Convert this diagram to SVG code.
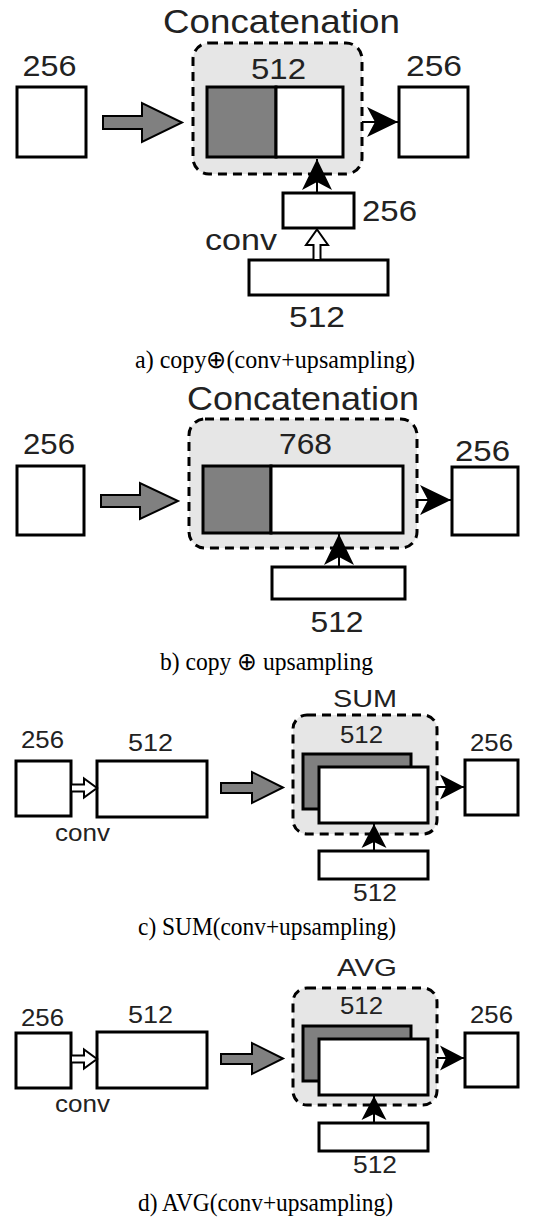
<svg xmlns="http://www.w3.org/2000/svg" width="536" height="1222" viewBox="0 0 536 1222">
<style>
.box{fill:#fff;stroke:#000;stroke-width:3}
.dark{fill:#808080;stroke:#000;stroke-width:3}
.group{fill:#e6e6e6;stroke:#000;stroke-width:3;stroke-dasharray:9 6}
.fat{fill:#808080;stroke:#000;stroke-width:2;stroke-linejoin:miter}
.hollow{fill:#fff;stroke:#000;stroke-width:2}
.conn{fill:none;stroke:#000;stroke-width:2}
.big{marker-end:url(#headL)}
.small{marker-end:url(#headS)}
.lbl{font-family:"Liberation Sans",Arial,sans-serif;fill:#222}
.cap{font-family:"Liberation Serif","Times New Roman",serif;fill:#000;text-anchor:middle}
.m{text-anchor:middle}
</style>
<defs>
<marker id="headL" markerUnits="userSpaceOnUse" viewBox="-32 -16 33 32" markerWidth="33" markerHeight="32" refX="0" refY="0" orient="auto">
<path d="M0,0 L-31,-15 L-23,0 L-31,15 Z" fill="#000"/>
</marker>
<marker id="headS" markerUnits="userSpaceOnUse" viewBox="-25 -13 26 26" markerWidth="26" markerHeight="26" refX="0" refY="0" orient="auto">
<path d="M0,0 L-24,-12.5 L-18,0 L-24,12.5 Z" fill="#000"/>
</marker>
</defs>

<!-- a) -->
<g id="a-in">
<rect class="box" x="17" y="87" width="69" height="70"/>
<text class="lbl m" x="49.5" y="76" font-size="29" textLength="54" lengthAdjust="spacingAndGlyphs">256</text>
</g>
<g id="a-concat">
<rect class="group" x="193" y="43" width="169" height="131" rx="16"/>
<rect class="dark" x="207" y="87" width="69" height="70"/>
<rect class="box" x="276" y="87" width="67" height="70"/>
<text class="lbl m" x="281.5" y="33" font-size="33" textLength="237" lengthAdjust="spacingAndGlyphs">Concatenation</text>
<text class="lbl m" x="278.5" y="79" font-size="29" textLength="55" lengthAdjust="spacingAndGlyphs">512</text>
</g>
<g id="a-out">
<rect class="box" x="399" y="87" width="69" height="70"/>
<text class="lbl m" x="434" y="76" font-size="29" textLength="56" lengthAdjust="spacingAndGlyphs">256</text>
</g>
<g id="a-small">
<rect class="box" x="283" y="193" width="71" height="35"/>
<text class="lbl" x="362" y="221" font-size="30" textLength="55" lengthAdjust="spacingAndGlyphs">256</text>
</g>
<g id="a-bottom">
<rect class="box" x="249" y="260" width="139" height="35"/>
<text class="lbl m" x="317" y="327" font-size="29" textLength="56" lengthAdjust="spacingAndGlyphs">512</text>
</g>
<text class="lbl" x="205" y="250" font-size="30" textLength="72" lengthAdjust="spacingAndGlyphs">conv</text>
<text class="cap" x="275" y="368" font-size="25" textLength="280" lengthAdjust="spacingAndGlyphs">a) copy⊕(conv+upsampling)</text>

<!-- b) -->
<g id="b-in">
<rect class="box" x="17" y="466" width="67" height="69"/>
<text class="lbl m" x="49" y="454" font-size="29" textLength="52" lengthAdjust="spacingAndGlyphs">256</text>
</g>
<g id="b-concat">
<rect class="group" x="189" y="419" width="228" height="129" rx="16"/>
<rect class="dark" x="203" y="466" width="68" height="67"/>
<rect class="box" x="271" y="466" width="132" height="67"/>
<text class="lbl m" x="303" y="410" font-size="33" textLength="232" lengthAdjust="spacingAndGlyphs">Concatenation</text>
<text class="lbl m" x="305.5" y="454" font-size="29" textLength="53" lengthAdjust="spacingAndGlyphs">768</text>
</g>
<g id="b-out">
<rect class="box" x="452" y="467" width="66" height="68"/>
<text class="lbl m" x="482.5" y="461" font-size="29" textLength="55" lengthAdjust="spacingAndGlyphs">256</text>
</g>
<g id="b-bottom">
<rect class="box" x="272" y="567" width="133" height="32"/>
<text class="lbl m" x="337" y="632" font-size="29" textLength="53" lengthAdjust="spacingAndGlyphs">512</text>
</g>
<text class="cap" x="266.5" y="670" font-size="25" textLength="213" lengthAdjust="spacingAndGlyphs">b) copy ⊕ upsampling</text>

<!-- c) -->
<g id="c-in">
<rect class="box" x="16" y="761" width="55" height="55"/>
<text class="lbl m" x="42.5" y="748" font-size="23" textLength="43" lengthAdjust="spacingAndGlyphs">256</text>
</g>
<g id="c-conv">
<rect class="box" x="97" y="761" width="110" height="56"/>
<text class="lbl m" x="150.5" y="751" font-size="23" textLength="45" lengthAdjust="spacingAndGlyphs">512</text>
</g>
<g id="c-sum">
<rect class="group" x="293" y="715" width="144" height="119" rx="14"/>
<rect class="dark" x="303" y="754" width="108" height="55"/>
<rect class="box" x="319" y="767" width="109" height="56"/>
<text class="lbl m" x="365" y="707" font-size="24" textLength="64" lengthAdjust="spacingAndGlyphs">SUM</text>
<text class="lbl m" x="361.5" y="743" font-size="23" textLength="43" lengthAdjust="spacingAndGlyphs">512</text>
</g>
<g id="c-out">
<rect class="box" x="465" y="760" width="53" height="55"/>
<text class="lbl m" x="491.5" y="751" font-size="23" textLength="43" lengthAdjust="spacingAndGlyphs">256</text>
</g>
<g id="c-bottom">
<rect class="box" x="319" y="851" width="109" height="28"/>
<text class="lbl m" x="375" y="901" font-size="23" textLength="44" lengthAdjust="spacingAndGlyphs">512</text>
</g>
<text class="lbl" x="55" y="841" font-size="23" textLength="55" lengthAdjust="spacingAndGlyphs">conv</text>
<text class="cap" x="267" y="935" font-size="25" textLength="258" lengthAdjust="spacingAndGlyphs">c) SUM(conv+upsampling)</text>

<!-- d) -->
<g id="d-in">
<rect class="box" x="16" y="1033" width="55" height="55"/>
<text class="lbl m" x="42.5" y="1026" font-size="23" textLength="43" lengthAdjust="spacingAndGlyphs">256</text>
</g>
<g id="d-conv">
<rect class="box" x="97" y="1032" width="110" height="56"/>
<text class="lbl m" x="150.5" y="1023" font-size="23" textLength="45" lengthAdjust="spacingAndGlyphs">512</text>
</g>
<g id="d-avg">
<rect class="group" x="293" y="988" width="144" height="117" rx="14"/>
<rect class="dark" x="303" y="1026" width="108" height="55"/>
<rect class="box" x="319" y="1039" width="109" height="56"/>
<text class="lbl m" x="367" y="976" font-size="24" textLength="60" lengthAdjust="spacingAndGlyphs">AVG</text>
<text class="lbl m" x="361.5" y="1014" font-size="23" textLength="43" lengthAdjust="spacingAndGlyphs">512</text>
</g>
<g id="d-out">
<rect class="box" x="465" y="1033" width="53" height="54"/>
<text class="lbl m" x="491.5" y="1023" font-size="23" textLength="43" lengthAdjust="spacingAndGlyphs">256</text>
</g>
<g id="d-bottom">
<rect class="box" x="319" y="1123" width="109" height="28"/>
<text class="lbl m" x="375" y="1173" font-size="23" textLength="44" lengthAdjust="spacingAndGlyphs">512</text>
</g>
<text class="lbl" x="55" y="1112" font-size="23" textLength="55" lengthAdjust="spacingAndGlyphs">conv</text>
<text class="cap" x="265.5" y="1211" font-size="25" textLength="255" lengthAdjust="spacingAndGlyphs">d) AVG(conv+upsampling)</text>

<g id="connectors">
<!-- a -->
<polygon class="fat" points="103,116 142,116 142,103 182,122.5 142,142 142,129 103,129"/>
<line class="conn big" x1="362" y1="122" x2="398" y2="122"/>
<line class="conn big" x1="317" y1="193" x2="317" y2="159"/>
<polygon class="hollow" points="313.5,260 313.5,245 306,245 317,229.5 328,245 320.5,245 320.5,260"/>
<!-- b -->
<polygon class="fat" points="101,495 140,495 140,483 178,501 140,519 140,507 101,507"/>
<line class="conn big" x1="417" y1="500" x2="451" y2="500"/>
<line class="conn big" x1="339" y1="567" x2="339" y2="534"/>
<!-- c -->
<polygon class="hollow" points="71,784.5 84,784.5 84,778.5 97,788 84,797.5 84,791.5 71,791.5"/>
<polygon class="fat" points="221,783 252,783 252,772 283,787.5 252,803 252,793 221,793"/>
<line class="conn small" x1="437" y1="787" x2="464" y2="787"/>
<line class="conn small" x1="374" y1="851" x2="374" y2="824"/>
<!-- d -->
<polygon class="hollow" points="71,1055.5 84,1055.5 84,1049.5 97,1059 84,1068.5 84,1062.5 71,1062.5"/>
<polygon class="fat" points="221,1054 252,1054 252,1043 283,1058.5 252,1074 252,1064 221,1064"/>
<line class="conn small" x1="437" y1="1058" x2="464" y2="1058"/>
<line class="conn small" x1="374" y1="1123" x2="374" y2="1096"/>
</g>
</svg>
